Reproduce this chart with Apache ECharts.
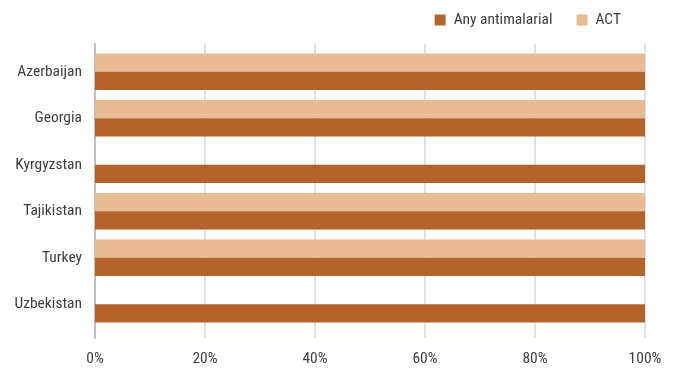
<!DOCTYPE html>
<html><head><meta charset="utf-8">
<script src="https://cdn.jsdelivr.net/npm/echarts@6/dist/echarts.min.js"></script>
<style>html,body{margin:0;padding:0;background:#fff}#c{width:678px;height:369px}</style>
</head><body><div id="c"></div>
<script>
var categories = ['Azerbaijan', 'Georgia', 'Kyrgyzstan', 'Tajikistan', 'Turkey', 'Uzbekistan'];
var anyAntimalarial = [100, 100, 100, 100, 100, 100];
var act = [100, 100, null, 100, 100, null];
var xTicks = [0, 20, 40, 60, 80, 100];

var FONT = '"Roboto Condensed", "DejaVu Sans Condensed", sans-serif';
var DARK = '#B4632B', LIGHT = '#E8BD93';
var chart = echarts.init(document.getElementById('c'));
chart.setOption({
  animation: false,
  textStyle: { fontFamily: FONT },
  legend: {
    data: ['Any antimalarial', 'ACT'],
    right: 52, top: 7,
    itemWidth: 11, itemHeight: 11, itemGap: 24,
    icon: 'rect',
    textStyle: { fontFamily: FONT, fontSize: 15.5, color: '#404040', padding: [0, 0, 0, 3] }
  },
  grid: [
    { left: 95, right: 33, top: 44, bottom: 31 },
    { left: 95, right: 33, top: 48.5, bottom: 41.5 }
  ],
  xAxis: [
    { gridIndex: 0, type: 'value', min: xTicks[0], max: xTicks[xTicks.length - 1], interval: 20,
      axisLine: { show: false }, axisTick: { show: false },
      splitLine: { lineStyle: { color: '#d9d9d9', width: 1.5 } },
      axisLabel: { formatter: '{value}%', fontFamily: FONT, fontSize: 15.5, color: '#404040', margin: 13 } },
    { gridIndex: 1, type: 'value', min: xTicks[0], max: xTicks[xTicks.length - 1], show: false }
  ],
  yAxis: [
    { gridIndex: 0, type: 'category', data: categories, inverse: true,
      axisLine: { lineStyle: { color: '#bfbfbf', width: 2 } }, axisTick: { show: false },
      axisLabel: { show: false } },
    { gridIndex: 1, type: 'category', data: categories, inverse: true,
      axisLine: { show: false }, axisTick: { show: false },
      axisLabel: { fontFamily: FONT, fontSize: 15.5, color: '#404040', margin: 13 } }
  ],
  series: [
    { name: 'ACT', type: 'bar', xAxisIndex: 1, yAxisIndex: 1, data: act,
      itemStyle: { color: LIGHT }, barGap: '0%', barCategoryGap: '21%' },
    { name: 'Any antimalarial', type: 'bar', xAxisIndex: 1, yAxisIndex: 1, data: anyAntimalarial,
      itemStyle: { color: DARK }, barGap: '0%', barCategoryGap: '21%' }
  ]
});
</script></body></html>
